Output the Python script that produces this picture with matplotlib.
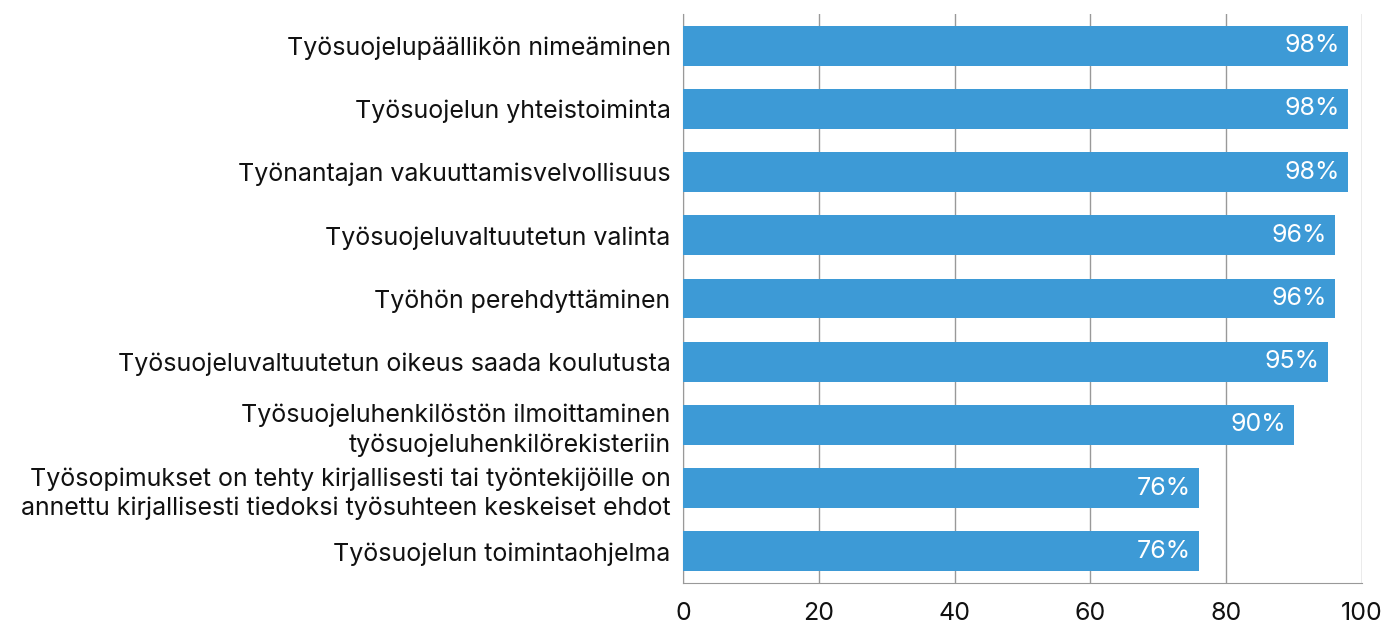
import matplotlib
matplotlib.use('Agg')
import matplotlib.pyplot as plt

labels = [
    'Työsuojelupäällikön nimeäminen',
    'Työsuojelun yhteistoiminta',
    'Työnantajan vakuuttamisvelvollisuus',
    'Työsuojeluvaltuutetun valinta',
    'Työhön perehdyttäminen',
    'Työsuojeluvaltuutetun oikeus saada koulutusta',
    'Työsuojeluhenkilöstön ilmoittaminen\ntyösuojeluhenkilörekisteriin',
    'Työsopimukset on tehty kirjallisesti tai työntekijöille on\nannettu kirjallisesti tiedoksi työsuhteen keskeiset ehdot',
    'Työsuojelun toimintaohjelma',
]
values = [98, 98, 98, 96, 96, 95, 90, 76, 76]
ticks = [0, 20, 40, 60, 80, 100]

plt.rcParams['font.family'] = ['Inter', 'DejaVu Sans']

fig = plt.figure(figsize=(13.86, 6.23), dpi=100)
ax = fig.add_axes([0.4928, 0.0642, 0.4899, 0.9133])

ypos = list(range(len(values)))
ax.barh(ypos, values, height=0.63, color='#3d9ad6', zorder=3)
for y, v in zip(ypos, values):
    ax.text(v - 1.2, y, f'{v}%', ha='right', va='center', color='white', fontsize=18, zorder=4)

ax.set_ylim(len(values) - 0.5, -0.5)
ax.set_xlim(0, 100)
ax.set_yticks(ypos)
ax.set_yticklabels(labels, fontsize=18, color='#111111', linespacing=1.3)
ax.set_xticks(ticks)
ax.set_xticklabels([str(t) for t in ticks], fontsize=18, color='#111111')
ax.tick_params(axis='both', length=0)
ax.tick_params(axis='x', pad=14)
ax.tick_params(axis='y', pad=9)
ax.xaxis.grid(True, color='#999999', linewidth=1.0, zorder=0)

for s in ['top', 'right']:
    ax.spines[s].set_visible(False)
ax.spines['left'].set_color('#999999')
ax.spines['bottom'].set_color('#999999')

fig.savefig('out.png', dpi=100)
